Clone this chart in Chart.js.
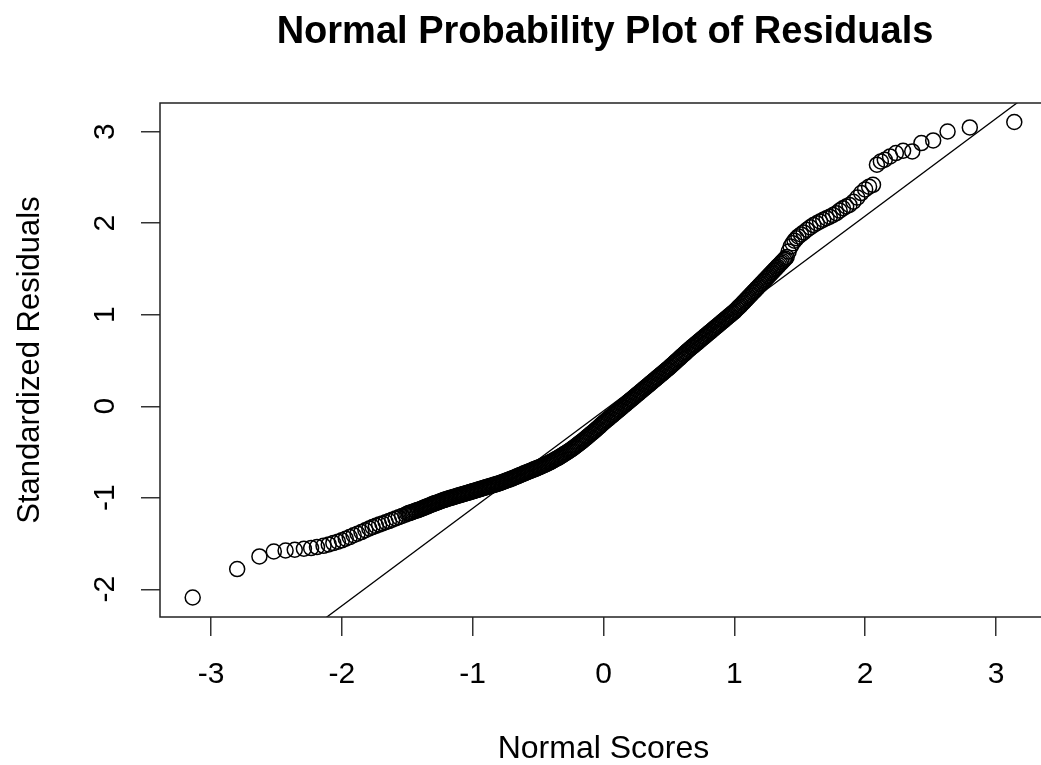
<!DOCTYPE html>
<html>
<head>
<meta charset="utf-8">
<title>Normal Probability Plot of Residuals</title>
<script src="https://cdn.jsdelivr.net/npm/chart.js"></script>
<style>
  html, body { margin: 0; background: #fff; overflow: hidden; }
  #outer { width: 1041px; height: 765px; overflow: hidden; }
  #inner { width: 1050px; height: 765px; }
</style>
</head>
<body>
<div id="outer"><div id="inner"><canvas id="qqChart" width="1050" height="765"></canvas></div></div>
<script>
// lower tail (single circles)
const lowScores = [-3.14, -2.80, -2.63, -2.52, -2.43, -2.36, -2.29, -2.235, -2.19, -2.14, -2.10, -2.065, -2.03,
  -2.0, -1.97, -1.94, -1.91, -1.88, -1.85, -1.82, -1.79, -1.765, -1.74, -1.715, -1.69, -1.665, -1.64, -1.615, -1.59, -1.565, -1.54, -1.515];
const lowResid = [-2.09, -1.779, -1.641, -1.587, -1.576, -1.568, -1.557, -1.55, -1.539, -1.525, -1.51, -1.495, -1.48,
  -1.465, -1.447, -1.43, -1.41, -1.392, -1.375, -1.355, -1.335, -1.32, -1.307, -1.293, -1.28, -1.268, -1.255, -1.24, -1.227, -1.213, -1.199, -1.186];

// dense middle band
const midScores = [
  -1.50,-1.49,-1.48,-1.47,-1.46,-1.45,-1.44,-1.43,-1.42,-1.41,
  -1.40,-1.39,-1.38,-1.37,-1.36,-1.35,-1.34,-1.33,-1.32,-1.31,
  -1.30,-1.29,-1.28,-1.27,-1.26,-1.25,-1.24,-1.23,-1.22,-1.21,
  -1.20,-1.19,-1.18,-1.17,-1.16,-1.15,-1.14,-1.13,-1.12,-1.11,
  -1.10,-1.09,-1.08,-1.07,-1.06,-1.05,-1.04,-1.03,-1.02,-1.01,
  -1.00,-0.99,-0.98,-0.97,-0.96,-0.95,-0.94,-0.93,-0.92,-0.91,
  -0.90,-0.89,-0.88,-0.87,-0.86,-0.85,-0.84,-0.83,-0.82,-0.81,
  -0.80,-0.79,-0.78,-0.77,-0.76,-0.75,-0.74,-0.73,-0.72,-0.71,
  -0.70,-0.69,-0.68,-0.67,-0.66,-0.65,-0.64,-0.63,-0.62,-0.61,
  -0.60,-0.59,-0.58,-0.57,-0.56,-0.55,-0.54,-0.53,-0.52,-0.51,
  -0.50,-0.49,-0.48,-0.47,-0.46,-0.45,-0.44,-0.43,-0.42,-0.41,
  -0.40,-0.39,-0.38,-0.37,-0.36,-0.35,-0.34,-0.33,-0.32,-0.31,
  -0.30,-0.29,-0.28,-0.27,-0.26,-0.25,-0.24,-0.23,-0.22,-0.21,
  -0.20,-0.19,-0.18,-0.17,-0.16,-0.15,-0.14,-0.13,-0.12,-0.11,
  -0.10,-0.09,-0.08,-0.07,-0.06,-0.05,-0.04,-0.03,-0.02,-0.01,
  0.00,0.01,0.02,0.03,0.04,0.05,0.06,0.07,0.08,0.09,
  0.10,0.11,0.12,0.13,0.14,0.15,0.16,0.17,0.18,0.19,
  0.20,0.21,0.22,0.23,0.24,0.25,0.26,0.27,0.28,0.29,
  0.30,0.31,0.32,0.33,0.34,0.35,0.36,0.37,0.38,0.39,
  0.40,0.41,0.42,0.43,0.44,0.45,0.46,0.47,0.48,0.49,
  0.50,0.51,0.52,0.53,0.54,0.55,0.56,0.57,0.58,0.59,
  0.60,0.61,0.62,0.63,0.64,0.65,0.66,0.67,0.68,0.69,
  0.70,0.71,0.72,0.73,0.74,0.75,0.76,0.77,0.78,0.79,
  0.80,0.81,0.82,0.83,0.84,0.85,0.86,0.87,0.88,0.89,
  0.90,0.91,0.92,0.93,0.94,0.95,0.96,0.97,0.98,0.99,
  1.00,1.01,1.02,1.03,1.04,1.05,1.06,1.07,1.08,1.09,
  1.10,1.11,1.12,1.13,1.14,1.15,1.16,1.17,1.18,1.19,
  1.20,1.21,1.22,1.23,1.24,1.25,1.26,1.27,1.28,1.29,
  1.30,1.31,1.32,1.33,1.34,1.35,1.36,1.37,1.38,1.39,
  1.40];
const midResid = [
  -1.175,-1.170,-1.165,-1.160,-1.155,-1.150,-1.145,-1.140,-1.135,-1.130,
  -1.125,-1.119,-1.113,-1.107,-1.101,-1.096,-1.090,-1.084,-1.078,-1.072,
  -1.066,-1.061,-1.056,-1.051,-1.046,-1.041,-1.035,-1.030,-1.025,-1.020,
  -1.015,-1.011,-1.006,-1.002,-0.998,-0.994,-0.989,-0.985,-0.981,-0.976,
  -0.972,-0.968,-0.964,-0.959,-0.955,-0.951,-0.947,-0.943,-0.938,-0.934,
  -0.930,-0.926,-0.921,-0.917,-0.912,-0.908,-0.904,-0.899,-0.895,-0.890,
  -0.886,-0.882,-0.877,-0.873,-0.869,-0.865,-0.860,-0.856,-0.852,-0.847,
  -0.843,-0.838,-0.832,-0.827,-0.822,-0.817,-0.811,-0.806,-0.801,-0.795,
  -0.790,-0.784,-0.778,-0.772,-0.766,-0.760,-0.754,-0.748,-0.742,-0.736,
  -0.730,-0.724,-0.718,-0.713,-0.707,-0.701,-0.695,-0.689,-0.684,-0.678,
  -0.672,-0.666,-0.660,-0.653,-0.647,-0.640,-0.634,-0.627,-0.620,-0.613,
  -0.606,-0.598,-0.590,-0.582,-0.574,-0.566,-0.558,-0.549,-0.540,-0.531,
  -0.522,-0.513,-0.504,-0.494,-0.485,-0.475,-0.465,-0.455,-0.444,-0.433,
  -0.422,-0.411,-0.400,-0.389,-0.378,-0.366,-0.354,-0.342,-0.330,-0.318,
  -0.306,-0.294,-0.282,-0.270,-0.258,-0.245,-0.232,-0.219,-0.206,-0.193,
  -0.180,-0.168,-0.156,-0.144,-0.132,-0.120,-0.108,-0.096,-0.084,-0.072,
  -0.060,-0.048,-0.036,-0.024,-0.012,0.000,0.012,0.024,0.036,0.048,
  0.060,0.072,0.084,0.096,0.108,0.120,0.132,0.144,0.156,0.168,
  0.180,0.192,0.204,0.216,0.228,0.240,0.252,0.264,0.276,0.288,
  0.300,0.312,0.324,0.336,0.348,0.360,0.372,0.384,0.396,0.408,
  0.420,0.433,0.446,0.459,0.472,0.485,0.498,0.511,0.524,0.537,
  0.550,0.563,0.576,0.589,0.602,0.615,0.627,0.639,0.651,0.663,
  0.675,0.687,0.699,0.711,0.723,0.735,0.747,0.759,0.771,0.783,
  0.795,0.807,0.819,0.831,0.843,0.855,0.867,0.879,0.891,0.903,
  0.915,0.927,0.939,0.951,0.963,0.975,0.987,0.999,1.011,1.023,
  1.035,1.049,1.063,1.077,1.091,1.105,1.120,1.135,1.150,1.165,
  1.180,1.195,1.210,1.225,1.240,1.255,1.270,1.285,1.300,1.315,
  1.330,1.345,1.360,1.375,1.390,1.405,1.420,1.435,1.450,1.465,
  1.480,1.495,1.510,1.525,1.540,1.555,1.570,1.585,1.600,1.615,
  1.630];

// upper tail
const highScores = [1.415, 1.43, 1.445, 1.46, 1.475, 1.49, 1.51, 1.53, 1.555, 1.58, 1.605, 1.63, 1.655, 1.68, 1.705,
  1.73, 1.755, 1.78, 1.805, 1.83, 1.855, 1.88, 1.91, 1.94, 1.97, 2.0, 2.03, 2.06,
  2.09, 2.12, 2.15, 2.19, 2.235, 2.29, 2.36, 2.43, 2.52, 2.63, 2.80, 3.14];
const highResid = [1.69, 1.745, 1.78, 1.81, 1.835, 1.856, 1.878, 1.9, 1.929, 1.955, 1.98, 2.0, 2.02, 2.038, 2.055,
  2.072, 2.09, 2.11, 2.138, 2.163, 2.183, 2.2, 2.235, 2.28, 2.33, 2.37, 2.40, 2.42,
  2.64, 2.676, 2.694, 2.73, 2.767, 2.792, 2.785, 2.876, 2.905, 3.003, 3.047, 3.106];

// reference line (qqline), end points beyond the box, clipped
const lineX = [-2.2, 3.25];
const lineY = [-2.394, 3.41];

const xTicks = [-3, -2, -1, 0, 1, 2, 3];
const yTicks = [-2, -1, 0, 1, 2, 3];

const FONT = "'Liberation Sans', Arial, Helvetica, sans-serif";

const scores = lowScores.concat(midScores, highScores);
const resid = lowResid.concat(midResid, highResid);
const points = scores.map((x, i) => ({ x: x, y: resid[i] }));
const linePts = lineX.map((x, i) => ({ x: x, y: lineY[i] }));

const boxAndTitle = {
  id: 'boxAndTitle',
  afterDraw(chart) {
    const ctx = chart.ctx;
    const a = chart.chartArea;
    ctx.save();
    ctx.strokeStyle = '#222';
    ctx.lineWidth = 1.5;
    ctx.strokeRect(a.left, a.top, a.right - a.left, a.bottom - a.top);
    ctx.fillStyle = '#000';
    ctx.font = 'bold 38px ' + FONT;
    ctx.textAlign = 'center';
    ctx.textBaseline = 'alphabetic';
    ctx.fillText('Normal Probability Plot of Residuals', (a.left + a.right) / 2 + 1.5, 43);
    ctx.restore();
  }
};

new Chart(document.getElementById('qqChart'), {
  type: 'scatter',
  data: {
    datasets: [
      {
        type: 'line',
        data: linePts,
        borderColor: '#000',
        borderWidth: 1.3,
        pointRadius: 0,
        fill: false
      },
      {
        data: points,
        pointStyle: 'circle',
        pointRadius: 7.5,
        pointBorderWidth: 1.5,
        pointBorderColor: '#000',
        pointBackgroundColor: 'rgba(0,0,0,0)',
        borderColor: '#000',
        backgroundColor: 'rgba(0,0,0,0)'
      }
    ]
  },
  options: {
    responsive: false,
    maintainAspectRatio: false,
    devicePixelRatio: 1,
    animation: false,
    layout: { autoPadding: false, padding: { top: 103, right: 3, left: 0, bottom: 0 } },
    plugins: {
      legend: { display: false },
      tooltip: { enabled: false },
      title: { display: false }
    },
    scales: {
      x: {
        type: 'linear',
        min: -3.39,
        max: 3.39,
        afterBuildTicks: s => { s.ticks = xTicks.map(v => ({ value: v })); },
        afterFit: s => { s.height = 148; },
        grid: { drawOnChartArea: false, drawTicks: true, tickLength: 19, color: '#333', lineWidth: 1.5 },
        border: { display: false },
        ticks: { autoSkip: false, padding: 21, color: '#000', font: { family: FONT, size: 30 }, maxRotation: 0 },
        title: { display: true, text: 'Normal Scores', color: '#000', font: { family: FONT, size: 32, lineHeight: 1 }, padding: 0 }
      },
      y: {
        type: 'linear',
        min: -2.303,
        max: 3.314,
        afterBuildTicks: s => { s.ticks = yTicks.map(v => ({ value: v })); },
        afterFit: s => { s.width = 160; },
        grid: { drawOnChartArea: false, drawTicks: true, tickLength: 19, color: '#333', lineWidth: 1.5 },
        border: { display: false },
        ticks: { autoSkip: false, padding: 22, minRotation: 90, maxRotation: 90, crossAlign: 'center', color: '#000', font: { family: FONT, size: 30 } },
        title: { display: true, text: 'Standardized Residuals', color: '#000', font: { family: FONT, size: 31, lineHeight: 1.2 }, padding: { top: 12, bottom: 0 } }
      }
    }
  },
  plugins: [boxAndTitle]
});
</script>
</body>
</html>
